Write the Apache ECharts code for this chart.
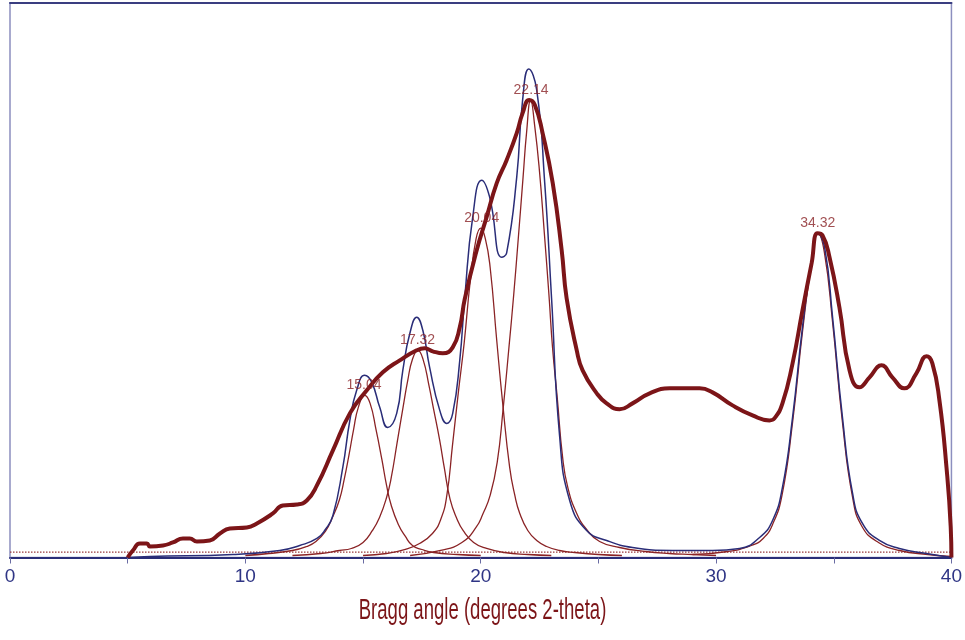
<!DOCTYPE html>
<html>
<head>
<meta charset="utf-8">
<script src="https://cdn.jsdelivr.net/npm/echarts@6/dist/echarts.min.js"></script>
<style>
html,body{margin:0;padding:0;background:#fff;}
#chart{width:965px;height:640px;}
</style>
</head>
<body>
<div id="chart"></div>
<script>
// x: Bragg angle (degrees 2-theta), y: intensity (arbitrary units)
const xTickLabels = [0, 10, 20, 30, 40];
const axisTitle = 'Bragg angle (degrees 2-theta)';

const measured = [
  [5.0,0],[5.22,7],[5.52,14],[5.82,14],[5.94,11],[6.5,12],[6.92,15],[7.35,19],[7.64,19],[7.94,16],
  [8.49,17],[8.92,24],[9.34,29],[10.06,30],[10.49,34],[11.17,44],[11.59,52],[12.19,53],[12.61,57],
  [13.04,72],[13.72,107],[14.44,144],[15.16,167],[15.84,185],[16.56,197],[17.28,207],[17.62,209],
  [17.96,206],[18.39,204],[18.81,210],[19.11,230],[19.32,258],[19.83,307],[20.25,340],[20.68,374],
  [21.1,397],[21.53,424],[21.78,444],[22.06,457],[22.3,452],[22.63,424],[23.06,374],[23.44,307],
  [23.65,259],[24.08,207],[24.33,187],[24.93,164],[25.35,154],[25.9,148],[26.45,154],[27.18,164],
  [28.03,169],[29.3,169],[29.85,165],[30.7,152],[31.55,142],[32.27,137],[32.48,139],[32.82,154],
  [33.25,194],[33.67,247],[34.06,294],[34.31,324],[34.52,322],[34.82,300],[35.24,250],[35.67,187],
  [36.09,170],[36.52,180],[37.03,192],[37.49,180],[38.0,169],[38.51,184],[38.94,201],[39.19,194],
  [39.49,157],[39.79,90],[39.97,30],[40.0,0]
];

const fitted = [
  [5.0,0],[5.94,1],[9.47,3],[11.46,7],[12.31,12],[13.04,19],[13.4,28],[13.72,42],[14.14,90],[14.44,137],
  [14.73,167],[15.07,182],[15.37,175],[15.71,150],[16.05,130],[16.43,144],[16.69,187],[16.99,224],
  [17.28,240],[17.54,227],[17.83,190],[18.26,147],[18.56,134],[18.81,144],[19.11,197],[19.32,259],
  [19.66,340],[20.04,377],[20.38,360],[20.89,300],[21.1,304],[21.53,380],[21.78,457],[22.04,488],
  [22.38,467],[22.72,374],[23.01,259],[23.35,122],[23.78,57],[24.5,27],[25.35,17],[26.45,10],
  [28.15,7],[29.85,7],[31.0,9],[31.85,20],[32.4,37],[32.82,70],[33.25,140],[33.67,230],[34.06,297],
  [34.31,324],[34.61,310],[34.95,240],[35.37,140],[35.8,64],[36.22,34],[36.94,17],[37.79,9],
  [38.94,4],[40.0,0]
];

const peak1 = [
  [10.0,2],[11.0,4],[12.0,7],[12.6,11],[13.0,16],[13.4,26],[13.7,40],[14.0,58],[14.2,78],[14.4,102],
  [14.6,128],[14.8,150],[15.07,162],[15.3,154],[15.55,128],[15.8,98],[16.0,72],[16.2,52],[16.5,33],
  [16.8,21],[17.1,12],[17.5,8],[18.0,5],[19.0,3],[20.0,2]
];
const peak2 = [
  [12.0,2],[13.2,4],[14.0,7],[14.5,9],[15.0,15],[15.4,27],[15.7,40],[16.0,60],[16.2,80],[16.45,115],
  [16.7,150],[16.9,177],[17.1,198],[17.33,207],[17.55,198],[17.8,172],[18.0,148],[18.25,118],
  [18.45,90],[18.7,58],[19.0,38],[19.25,27],[19.7,15],[20.25,9],[21.0,5],[22.0,3],[23.0,2]
];
const peak3 = [
  [15.0,2],[16.0,4],[16.8,8],[17.4,14],[17.95,24],[18.3,38],[18.56,62],[18.8,112],[19.05,165],
  [19.3,215],[19.55,275],[19.8,318],[20.0,329],[20.2,318],[20.4,290],[20.68,217],[20.93,155],
  [21.23,90],[21.45,62],[21.66,44],[22.0,27],[22.38,17],[22.8,11],[23.35,7],[24.0,5],[25.0,3],[26.0,2]
];
const peak4 = [
  [17.0,2],[18.3,7],[19.2,15],[19.8,30],[20.1,44],[20.4,62],[20.7,95],[20.95,148],[21.2,210],
  [21.4,262],[21.6,320],[21.8,380],[21.95,425],[22.12,457],[22.3,430],[22.5,385],[22.7,325],
  [22.9,262],[23.05,210],[23.25,160],[23.48,100],[23.7,70],[24.08,44],[24.5,28],[25.05,16],
  [25.9,10],[27.0,6],[28.0,4],[29.0,3],[30.0,2]
];
const peak5 = [
  [29.0,3],[30.5,6],[31.5,12],[32.0,19],[32.4,33],[32.8,62],[33.25,135],[33.67,225],[34.06,295],
  [34.32,324],[34.6,305],[34.95,235],[35.37,135],[35.8,60],[36.2,31],[36.9,15],[37.8,7],[39.0,3],[40.0,1]
];

const peakPositions = [15.04, 17.32, 20.04, 22.14, 34.32];
const peakLabelHeights = [162, 207, 329, 457, 324];
const baselineLevel = [5.3];

const DARK_RED = '#7c1518';
const THIN_RED = '#8a2325';
const NAVY = '#2a2d78';
const FONT = '"Liberation Sans", Arial, sans-serif';

const chart = echarts.init(document.getElementById('chart'), null, {renderer: 'canvas'});

function comp(data) {
  return {
    type: 'line', data: data, xAxisIndex: 0, yAxisIndex: 0,
    showSymbol: false, smooth: 0.5,
    lineStyle: {color: THIN_RED, width: 1.3}, silent: true, z: 2
  };
}

chart.setOption({
  animation: false,
  backgroundColor: '#ffffff',
  grid: {
    left: 10, right: 12.5, top: 3, bottom: 82.5,
    show: true, borderColor: '#8c8fbf', borderWidth: 1.5, backgroundColor: 'transparent'
  },
  graphic: [{
    type: 'text', left: 'center', top: 596, scaleX: 0.64, originX: 482, originY: 612,
    style: {text: axisTitle, fill: DARK_RED, font: '29px ' + FONT, textAlign: 'center'}
  }],
  xAxis: [{
    type: 'value', min: 0, max: 40, interval: 5, position: 'bottom',
    axisLine: {show: true, onZero: false, lineStyle: {color: NAVY, width: 2}},
    axisTick: {show: true, length: 6, lineStyle: {color: '#6a6ca3', width: 1}},
    axisLabel: {
      color: '#2f3585', fontSize: 19, fontFamily: FONT, margin: 10,
      formatter: function (v) { return xTickLabels.indexOf(v) >= 0 ? String(v) : ''; }
    },
    splitLine: {show: false}
  }, {
    type: 'value', min: 0, max: 40, position: 'top',
    axisLine: {show: true, onZero: false, lineStyle: {color: '#3a3e80', width: 2}},
    axisTick: {show: false}, axisLabel: {show: false}, splitLine: {show: false}
  }],
  yAxis: {
    type: 'value', min: 0, max: 554,
    axisLine: {show: false}, axisTick: {show: false}, axisLabel: {show: false}, splitLine: {show: false}
  },
  series: [
    {
      type: 'line', silent: true, showSymbol: false, z: 1,
      data: [[0, baselineLevel[0]], [40, baselineLevel[0]]],
      lineStyle: {color: '#9a3a3c', width: 1.2, type: [1.5, 1.5]}
    },
    comp(peak1), comp(peak2), comp(peak3), comp(peak4), comp(peak5),
    {
      type: 'line', data: fitted, showSymbol: false, smooth: 0.5, silent: true, z: 3,
      lineStyle: {color: NAVY, width: 1.5}
    },
    {
      type: 'line', data: measured, showSymbol: false, smooth: 0.5, silent: true, z: 4,
      lineStyle: {color: DARK_RED, width: 4}
    },
    {
      type: 'scatter', symbolSize: 0, silent: true, z: 5,
      data: peakPositions.map(function (p, i) { return [p, peakLabelHeights[i]]; }),
      label: {
        show: true, position: 'top', distance: 3,
        color: '#8a2327', fontSize: 14, fontFamily: FONT,
        formatter: function (p) { return p.value[0].toFixed(2); }
      }
    }
  ]
});
</script>
</body>
</html>
